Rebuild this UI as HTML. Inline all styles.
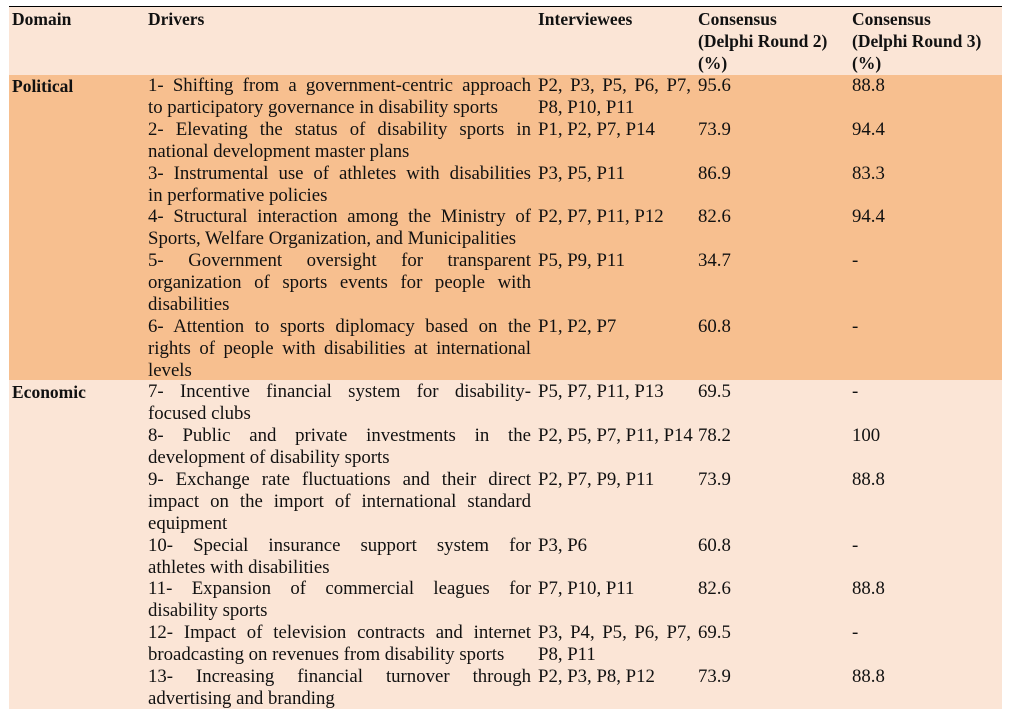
<!DOCTYPE html>
<html><head><meta charset="utf-8"><style>
body{margin:0;width:1009px;height:709px;background:#fff;overflow:hidden;position:relative;font-family:"Liberation Serif",serif;font-size:18.8px;color:#111}
.bg{position:absolute;left:9px;width:993px}
.t{position:absolute;white-space:nowrap;line-height:22px;height:22px}
.j{text-align:justify;text-align-last:justify;white-space:normal;width:383px}
.b{font-weight:bold;font-size:17.5px}
</style></head><body>
<div class="bg" style="top:6px;height:68px;background:#fbe5d6;border-top:1.5px solid #000;border-bottom:1.5px solid #000"></div>
<div class="bg" style="top:75px;height:305px;background:#f7bf8f"></div>
<div class="bg" style="top:380px;height:329px;background:#fbe5d6"></div>
<div id="c"></div>
<script>
const L=[
[8,12,'Domain',1],[8,148,'Drivers',1],[8,538,'Interviewees',1],[8,698,'Consensus',1],[30,698,'(Delphi Round 2)',1],[52,698,'(%)',1],[8,852,'Consensus',1],[30,852,'(Delphi Round 3)',1],[52,852,'(%)',1],
[75,12,'Political',1],[381,12,'Economic',1]];
const rows=[
[75,['1- Shifting from a government-centric approach','to participatory governance in disability sports'],['P2, P3, P5, P6, P7,','P8, P10, P11'],'95.6','88.8'],
[119,['2- Elevating the status of disability sports in','national development master plans'],['P1, P2, P7, P14'],'73.9','94.4'],
[163,['3- Instrumental use of athletes with disabilities','in performative policies'],['P3, P5, P11'],'86.9','83.3'],
[206,['4- Structural interaction among the Ministry of','Sports, Welfare Organization, and Municipalities'],['P2, P7, P11, P12'],'82.6','94.4'],
[250,['5- Government oversight for transparent','organization of sports events for people with','disabilities'],['P5, P9, P11'],'34.7','-'],
[316,['6- Attention to sports diplomacy based on the','rights of people with disabilities at international','levels'],['P1, P2, P7'],'60.8','-'],
[381,['7- Incentive financial system for disability-','focused clubs'],['P5, P7, P11, P13'],'69.5','-'],
[425,['8- Public and private investments in the','development of disability sports'],['P2, P5, P7, P11, P14'],'78.2','100'],
[469,['9- Exchange rate fluctuations and their direct','impact on the import of international standard','equipment'],['P2, P7, P9, P11'],'73.9','88.8'],
[535,['10- Special insurance support system for','athletes with disabilities'],['P3, P6'],'60.8','-'],
[578,['11- Expansion of commercial leagues for','disability sports'],['P7, P10, P11'],'82.6','88.8'],
[622,['12- Impact of television contracts and internet','broadcasting on revenues from disability sports'],['P3, P4, P5, P6, P7,','P8, P11'],'69.5','-'],
[666,['13- Increasing financial turnover through','advertising and branding'],['P2, P3, P8, P12'],'73.9','88.8']];
let h='';
for(const [y,x,s,b] of L)h+=`<div class="t b" style="top:${y}px;left:${x}px">${s}</div>`;
for(const [y,d,iv,r2,r3] of rows){
 d.forEach((s,i)=>{const last=i==d.length-1;h+=`<div class="t${last?'':' j'}" style="top:${y+i*22}px;left:148px">${s}</div>`;});
 iv.forEach((s,i)=>{const last=i==iv.length-1;h+=`<div class="t${last?'':' j'}" style="top:${y+i*22}px;left:538px;${last?'':'width:153px'}">${s}</div>`;});
 h+=`<div class="t" style="top:${y}px;left:698px">${r2}</div><div class="t" style="top:${y}px;left:852px">${r3}</div>`;
}
document.getElementById('c').innerHTML=h;
</script>
</body></html>
